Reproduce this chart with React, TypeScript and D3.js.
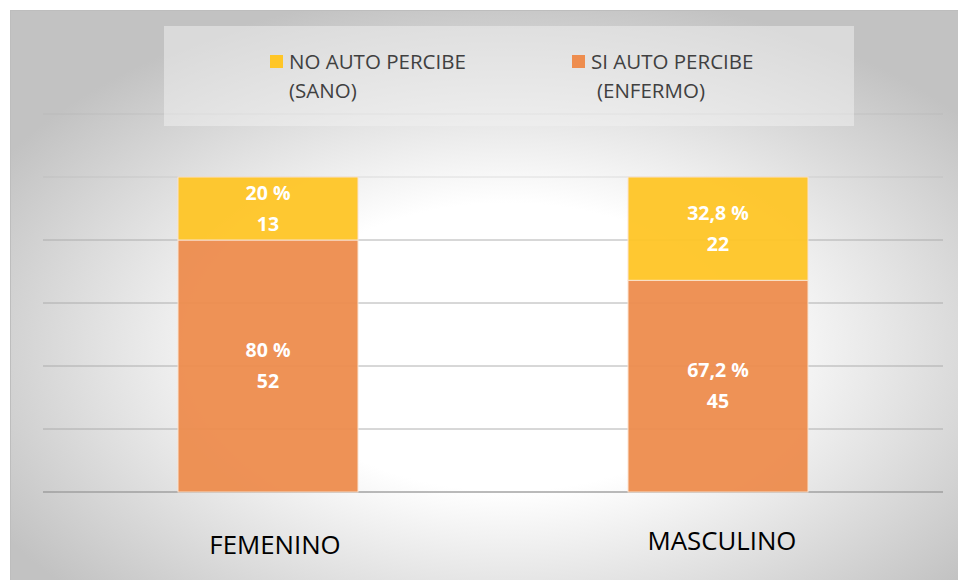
import React from "react";
import * as d3 from "d3";

const categories = ["FEMENINO", "MASCULINO"];
const enfermoPct = [80, 67.2];
const sanoPct = [20, 32.8];
const enfermoCount = [52, 45];
const sanoCount = [13, 22];
const pctLabels = [["80 %", "20 %"], ["67,2 %", "32,8 %"]];
const yTicks = [0, 20, 40, 60, 80, 100, 120];

const W = 958;
const H = 580;
const COLORS = { sano: "#FFC627", enfermo: "#EE8D4E" };

export default function App() {
  const x = d3.scaleBand<string>().domain(categories).range([43, 943]).paddingInner(0.6).paddingOuter(0.3);
  const y = d3.scaleLinear().domain([0, 120]).range([492, 114]);
  const font = "'Open Sans', 'Liberation Sans', sans-serif";

  const segments = categories.flatMap((c, i) => [
    { c, key: "enfermo", y0: 0, y1: enfermoPct[i], pct: pctLabels[i][0], n: enfermoCount[i] },
    { c, key: "sano", y0: enfermoPct[i], y1: enfermoPct[i] + sanoPct[i], pct: pctLabels[i][1], n: sanoCount[i] },
  ]);

  return (
    <svg width={W} height={H} style={{ position: "absolute", left: 0, top: 0 }}>
      <defs>
        <radialGradient id="bg" cx="52%" cy="58%" r="62%">
          <stop offset="0%" stopColor="#ffffff" />
          <stop offset="40%" stopColor="#ffffff" />
          <stop offset="100%" stopColor="#c2c2c2" />
        </radialGradient>
      </defs>
      <rect x={0} y={0} width={W} height={H} fill="#fff" />
      <rect x={10.5} y={10.5} width={W - 2} height={H} fill="url(#bg)" stroke="#bdbdbd" strokeWidth={1} />
      {yTicks.map((t) => (
        <line key={t} x1={43} x2={943} y1={y(t)} y2={y(t)} stroke={t === 0 ? "#9a9a9a" : "#a8a8a8"} strokeWidth={t === 0 ? 1.5 : 1} opacity={t >= 100 ? 0.3 : 0.9} />
      ))}
      <rect x={164} y={26} width={690} height={100} fill="#f2f2f2" opacity={0.5} />
      {segments.map((s, i) => {
        const x0 = x(s.c)!;
        const top = y(s.y1);
        const bot = y(s.y0);
        const cy = (top + bot) / 2;
        const cx = x0 + x.bandwidth() / 2;
        return (
          <g key={i}>
            <rect x={x0} y={top} width={x.bandwidth()} height={bot - top} fill={(COLORS as any)[s.key]} opacity={0.95} stroke="#fbe3cf" strokeWidth={1} />
            <text x={cx} y={cy - 9} textAnchor="middle" fill="#fff" fontFamily={font} fontWeight={700} fontSize={19.5}>{s.pct}</text>
            <text x={cx} y={cy + 22} textAnchor="middle" fill="#fff" fontFamily={font} fontWeight={700} fontSize={19.5}>{s.n}</text>
          </g>
        );
      })}
      {/* legend */}
      <rect x={270} y={55} width={13} height={13} fill={COLORS.sano} />
      <text x={289} y={69} fontFamily={font} fontSize={20.5} fill="#404040">NO AUTO PERCIBE</text>
      <text x={289} y={98} fontFamily={font} fontSize={20.5} fill="#404040">(SANO)</text>
      <rect x={572} y={55} width={13} height={13} fill={COLORS.enfermo} />
      <text x={591} y={69} fontFamily={font} fontSize={20.5} fill="#404040">SI AUTO PERCIBE</text>
      <text x={597} y={98} fontFamily={font} fontSize={20.5} fill="#404040">(ENFERMO)</text>
      {/* category labels */}
      {categories.map((c, i) => (
        <text key={c} x={x(c)! + x.bandwidth() / 2 + (i === 0 ? 7 : 4)} y={i === 0 ? 554 : 550} textAnchor="middle" fontFamily={font} fontSize={25.8} fill="#000">{c}</text>
      ))}
    </svg>
  );
}
